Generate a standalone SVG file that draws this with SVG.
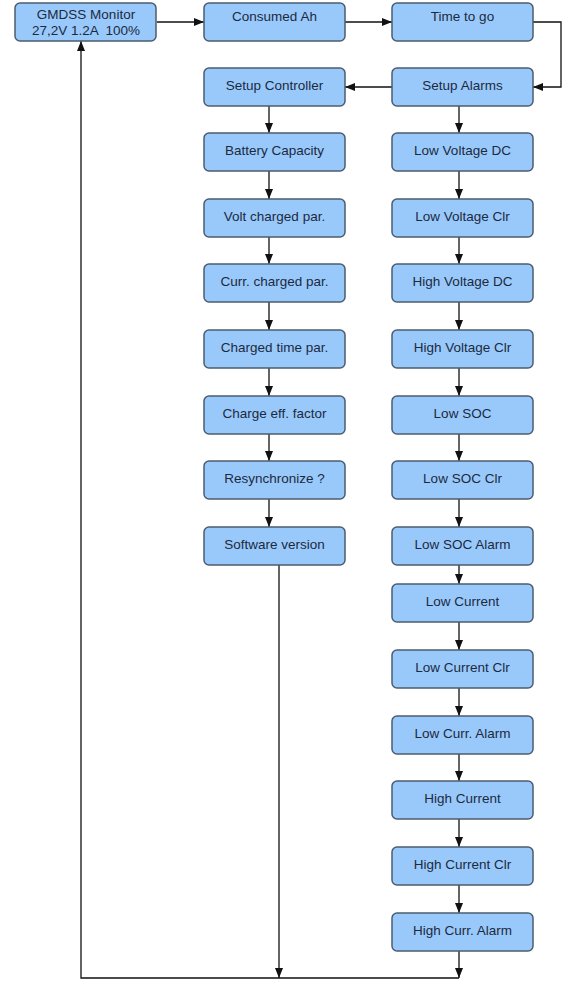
<svg xmlns="http://www.w3.org/2000/svg" width="579" height="982" viewBox="0 0 579 982">
<style>
.n rect{fill:#99c9fb;stroke:#4b5d70;stroke-width:1.5}
.n text{font-family:"Liberation Sans",Arial,sans-serif;font-size:13.5px;fill:#1c2a40;text-anchor:middle;dominant-baseline:central;white-space:pre}
.c{fill:none;stroke:#111;stroke-width:1.3}
</style>
<defs>
<marker id="a" viewBox="0 0 10 10" refX="10" refY="5" markerWidth="10" markerHeight="10" markerUnits="userSpaceOnUse" orient="auto">
<path d="M0,1 L10,5 L0,9 Z" fill="#111"/>
</marker>
</defs>
<g id="connectors">
<path class="c" d="M157,22 H204" marker-end="url(#a)"/>
<path class="c" d="M345,22 H392" marker-end="url(#a)"/>
<path class="c" d="M533,22 H561 V87 H533" marker-end="url(#a)"/>
<path class="c" d="M392,87 H345" marker-end="url(#a)"/>
<path class="c" d="M269,106 V133" marker-end="url(#a)"/>
<path class="c" d="M269,171 V199" marker-end="url(#a)"/>
<path class="c" d="M269,237 V264" marker-end="url(#a)"/>
<path class="c" d="M269,302 V330" marker-end="url(#a)"/>
<path class="c" d="M269,368 V396" marker-end="url(#a)"/>
<path class="c" d="M269,434 V461" marker-end="url(#a)"/>
<path class="c" d="M269,499 V527" marker-end="url(#a)"/>
<path class="c" d="M279,565 V978" marker-end="url(#a)"/>
<path class="c" d="M459,106 V133" marker-end="url(#a)"/>
<path class="c" d="M459,171 V199" marker-end="url(#a)"/>
<path class="c" d="M459,237 V264" marker-end="url(#a)"/>
<path class="c" d="M459,302 V330" marker-end="url(#a)"/>
<path class="c" d="M459,368 V396" marker-end="url(#a)"/>
<path class="c" d="M459,434 V461" marker-end="url(#a)"/>
<path class="c" d="M459,499 V527" marker-end="url(#a)"/>
<path class="c" d="M459,565 V584" marker-end="url(#a)"/>
<path class="c" d="M459,622 V650" marker-end="url(#a)"/>
<path class="c" d="M459,688 V716" marker-end="url(#a)"/>
<path class="c" d="M459,754 V781" marker-end="url(#a)"/>
<path class="c" d="M459,819 V847" marker-end="url(#a)"/>
<path class="c" d="M459,885 V913" marker-end="url(#a)"/>
<path class="c" d="M459,951 V978" marker-end="url(#a)"/>
<path class="c" d="M459,978 H81 V41" marker-end="url(#a)"/>
</g>
<g id="gmdss" class="n"><rect x="15" y="3" width="141" height="38" rx="5"/><text x="86" y="14">GMDSS Monitor</text><text x="86" y="30" xml:space="preserve">27,2V 1.2A  100%</text></g>
<g id="consumed" class="n"><rect x="204" y="3" width="141" height="38" rx="5"/><text x="274.5" y="16">Consumed Ah</text></g>
<g id="timetogo" class="n"><rect x="392" y="3" width="141" height="38" rx="5"/><text x="462.5" y="16">Time to go</text></g>
<g id="setupctrl" class="n"><rect x="204" y="68" width="141" height="38" rx="5"/><text x="274.5" y="85">Setup Controller</text></g>
<g id="battcap" class="n"><rect x="204" y="133" width="141" height="38" rx="5"/><text x="274.5" y="150">Battery Capacity</text></g>
<g id="voltch" class="n"><rect x="204" y="199" width="141" height="38" rx="5"/><text x="274.5" y="216">Volt charged par.</text></g>
<g id="currch" class="n"><rect x="204" y="264" width="141" height="38" rx="5"/><text x="274.5" y="281">Curr. charged par.</text></g>
<g id="chtime" class="n"><rect x="204" y="330" width="141" height="38" rx="5"/><text x="274.5" y="347">Charged time par.</text></g>
<g id="cheff" class="n"><rect x="204" y="396" width="141" height="38" rx="5"/><text x="274.5" y="413">Charge eff. factor</text></g>
<g id="resync" class="n"><rect x="204" y="461" width="141" height="38" rx="5"/><text x="274.5" y="478">Resynchronize ?</text></g>
<g id="software" class="n"><rect x="204" y="527" width="141" height="38" rx="5"/><text x="274.5" y="544">Software version</text></g>
<g id="setupalarms" class="n"><rect x="392" y="68" width="141" height="38" rx="5"/><text x="462.5" y="85">Setup Alarms</text></g>
<g id="lvdc" class="n"><rect x="392" y="133" width="141" height="38" rx="5"/><text x="462.5" y="150">Low Voltage DC</text></g>
<g id="lvclr" class="n"><rect x="392" y="199" width="141" height="38" rx="5"/><text x="462.5" y="216">Low Voltage Clr</text></g>
<g id="hvdc" class="n"><rect x="392" y="264" width="141" height="38" rx="5"/><text x="462.5" y="281">High Voltage DC</text></g>
<g id="hvclr" class="n"><rect x="392" y="330" width="141" height="38" rx="5"/><text x="462.5" y="347">High Voltage Clr</text></g>
<g id="lsoc" class="n"><rect x="392" y="396" width="141" height="38" rx="5"/><text x="462.5" y="413">Low SOC</text></g>
<g id="lsocclr" class="n"><rect x="392" y="461" width="141" height="38" rx="5"/><text x="462.5" y="478">Low SOC Clr</text></g>
<g id="lsocalarm" class="n"><rect x="392" y="527" width="141" height="38" rx="5"/><text x="462.5" y="544">Low SOC Alarm</text></g>
<g id="lcur" class="n"><rect x="392" y="584" width="141" height="38" rx="5"/><text x="462.5" y="601">Low Current</text></g>
<g id="lcurclr" class="n"><rect x="392" y="650" width="141" height="38" rx="5"/><text x="462.5" y="667">Low Current Clr</text></g>
<g id="lcuralarm" class="n"><rect x="392" y="716" width="141" height="38" rx="5"/><text x="462.5" y="733">Low Curr. Alarm</text></g>
<g id="hcur" class="n"><rect x="392" y="781" width="141" height="38" rx="5"/><text x="462.5" y="798">High Current</text></g>
<g id="hcurclr" class="n"><rect x="392" y="847" width="141" height="38" rx="5"/><text x="462.5" y="864">High Current Clr</text></g>
<g id="hcuralarm" class="n"><rect x="392" y="913" width="141" height="38" rx="5"/><text x="462.5" y="930">High Curr. Alarm</text></g>
</svg>
